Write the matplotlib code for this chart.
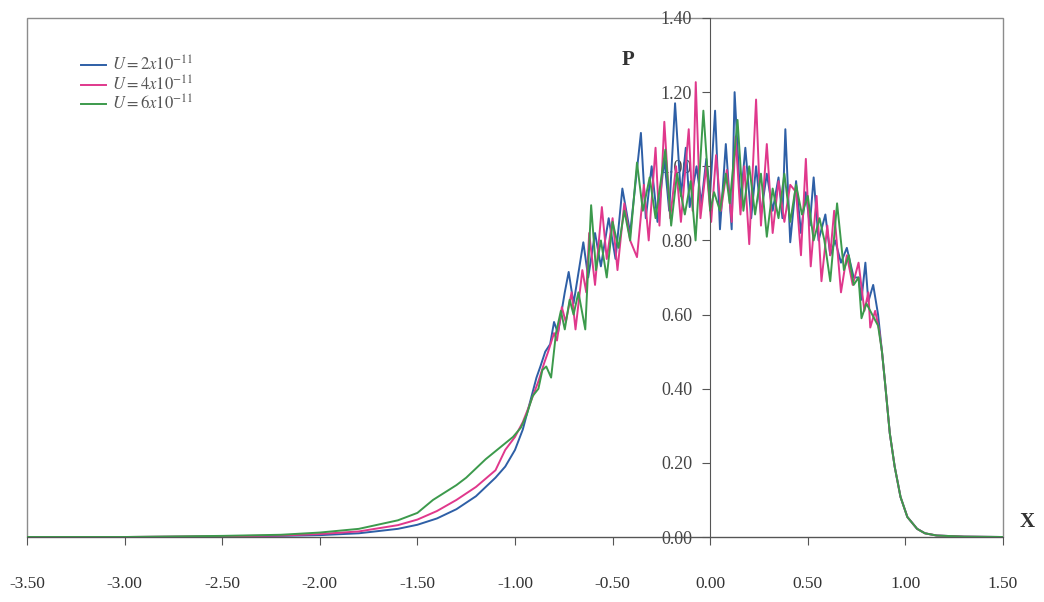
import numpy as np
import matplotlib
matplotlib.use('Agg')
import matplotlib.pyplot as plt
from matplotlib.patches import Rectangle

LABELS = [r'$U = 2x10^{-11}$', r'$U = 4x10^{-11}$', r'$U = 6x10^{-11}$']
COLORS = ['#2e5fa6', '#e0388c', '#3c9a4c']

X_TICKS = [-3.5, -3.0, -2.5, -2.0, -1.5, -1.0, -0.5, 0.0, 0.5, 1.0, 1.5]
X_TICK_LABELS = ['-3.50', '-3.00', '-2.50', '-2.00', '-1.50', '-1.00', '-0.50', '0.00', '0.50', '1.00', '1.50']
Y_TICKS = [0.0, 0.2, 0.4, 0.6, 0.8, 1.0, 1.2, 1.4]
Y_TICK_LABELS = ['0.00', '0.20', '0.40', '0.60', '0.80', '1.00', '1.20', '1.40']

# blue, U = 2x10^-11
X_BLUE = [-3.5, -3.0, -2.5, -2.2, -2.0, -1.8, -1.6, -1.5, -1.4, -1.3, -1.2, -1.1, -1.05, -1.0,
          -0.96, -0.93, -0.89, -0.87, -0.845, -0.82, -0.80, -0.78, -0.745, -0.725, -0.70,
          -0.65, -0.625, -0.59, -0.56, -0.52, -0.485, -0.45, -0.41, -0.355, -0.33, -0.30,
          -0.27, -0.235, -0.21, -0.18, -0.15, -0.125, -0.105, -0.07, -0.045, -0.02, 0.0,
          0.025, 0.05, 0.08, 0.11, 0.125, 0.155, 0.18, 0.21, 0.235, 0.26, 0.29, 0.32, 0.35,
          0.37, 0.385, 0.41, 0.44, 0.465, 0.49, 0.51, 0.53, 0.555, 0.59, 0.615, 0.64, 0.67,
          0.70, 0.735, 0.76, 0.775, 0.795, 0.81, 0.835, 0.86, 0.88, 0.895, 0.92, 0.945,
          0.975, 1.01, 1.06, 1.10, 1.16, 1.30, 1.50]
Y_BLUE = [0.0, 0.0, 0.001, 0.003, 0.005, 0.01, 0.022, 0.033, 0.05, 0.075, 0.11, 0.16, 0.19, 0.235,
          0.29, 0.35, 0.43, 0.46, 0.50, 0.52, 0.58, 0.55, 0.66, 0.715, 0.63,
          0.795, 0.70, 0.82, 0.73, 0.86, 0.75, 0.94, 0.82, 1.09, 0.86, 1.00,
          0.85, 1.02, 0.88, 1.17, 0.92, 1.05, 0.89, 1.00, 0.90, 1.02, 0.93,
          1.15, 0.83, 1.06, 0.83, 1.20, 0.90, 1.05, 0.86, 1.00, 0.87, 0.98, 0.88, 0.97,
          0.86, 1.10, 0.795, 0.96, 0.82, 0.93, 0.84, 0.97, 0.80, 0.87, 0.76, 0.80, 0.74,
          0.78, 0.70, 0.70, 0.64, 0.74, 0.635, 0.68, 0.60, 0.50, 0.42, 0.28, 0.19,
          0.108, 0.054, 0.022, 0.01, 0.004, 0.001, 0.0]

# pink, U = 4x10^-11
X_PINK = [-3.5, -3.0, -2.5, -2.2, -2.0, -1.8, -1.6, -1.5, -1.4, -1.3, -1.2, -1.1, -1.05, -1.0,
          -0.96, -0.93, -0.88, -0.85, -0.83, -0.80, -0.785, -0.76, -0.74, -0.71, -0.69,
          -0.655, -0.635, -0.62, -0.59, -0.555, -0.53, -0.50, -0.475, -0.44, -0.41, -0.375,
          -0.34, -0.315, -0.28, -0.26, -0.235, -0.205, -0.175, -0.15, -0.11, -0.09, -0.074,
          -0.05, -0.02, 0.005, 0.03, 0.055, 0.085, 0.11, 0.13, 0.155, 0.175, 0.20, 0.235,
          0.26, 0.29, 0.32, 0.35, 0.38, 0.41, 0.44, 0.465, 0.49, 0.515, 0.545, 0.57, 0.60,
          0.615, 0.635, 0.67, 0.70, 0.73, 0.76, 0.79, 0.81, 0.82, 0.845, 0.865, 0.88, 0.895,
          0.92, 0.945, 0.975, 1.01, 1.06, 1.10, 1.16, 1.30, 1.50]
Y_PINK = [0.0, 0.0, 0.002, 0.004, 0.008, 0.015, 0.032, 0.047, 0.07, 0.10, 0.135, 0.18, 0.235, 0.27,
          0.31, 0.35, 0.42, 0.47, 0.50, 0.55, 0.53, 0.62, 0.58, 0.66, 0.56,
          0.72, 0.66, 0.82, 0.68, 0.89, 0.75, 0.86, 0.72, 0.90, 0.80, 0.755,
          0.95, 0.80, 1.05, 0.84, 1.12, 0.86, 1.00, 0.85, 1.10, 0.88, 1.227,
          0.86, 1.00, 0.85, 1.03, 0.88, 0.99, 0.85, 1.08, 0.87, 1.00, 0.79, 1.18,
          0.84, 1.06, 0.82, 0.96, 0.85, 0.95, 0.93, 0.76, 1.02, 0.73, 0.92, 0.69, 0.84,
          0.76, 0.88, 0.66, 0.76, 0.68, 0.74, 0.61, 0.66, 0.565, 0.61, 0.56, 0.50, 0.42,
          0.28, 0.19, 0.108, 0.054, 0.022, 0.01, 0.004, 0.001, 0.0]

# green, U = 6x10^-11
X_GREEN = [-3.5, -3.0, -2.5, -2.2, -2.0, -1.8, -1.6, -1.5, -1.42, -1.3, -1.25, -1.15, -1.08,
           -1.01, -0.97, -0.94, -0.91, -0.88, -0.86, -0.84, -0.815, -0.79, -0.765, -0.745,
           -0.72, -0.70, -0.675, -0.64, -0.61, -0.585, -0.56, -0.53, -0.50, -0.47, -0.44,
           -0.41, -0.375, -0.345, -0.31, -0.28, -0.23, -0.20, -0.17, -0.13, -0.10, -0.075,
           -0.035, 0.0, 0.02, 0.05, 0.08, 0.10, 0.14, 0.17, 0.20, 0.23, 0.26, 0.29, 0.32,
           0.35, 0.38, 0.41, 0.44, 0.47, 0.50, 0.53, 0.56, 0.585, 0.615, 0.65, 0.685, 0.71,
           0.735, 0.76, 0.775, 0.80, 0.83, 0.86, 0.88, 0.895, 0.92, 0.945, 0.975, 1.01, 1.06,
           1.10, 1.16, 1.30, 1.50]
Y_GREEN = [0.0, 0.0, 0.003, 0.006, 0.012, 0.022, 0.045, 0.065, 0.10, 0.14, 0.16, 0.21, 0.24,
           0.27, 0.295, 0.33, 0.38, 0.40, 0.45, 0.46, 0.43, 0.55, 0.61, 0.56,
           0.64, 0.60, 0.66, 0.56, 0.895, 0.72, 0.80, 0.70, 0.85, 0.78, 0.88,
           0.80, 1.01, 0.88, 0.97, 0.86, 1.045, 0.84, 0.98, 0.87, 0.96, 0.80,
           1.15, 0.88, 0.93, 0.88, 0.98, 0.90, 1.125, 0.88, 1.00, 0.87, 0.98, 0.81, 0.94,
           0.86, 0.98, 0.85, 0.95, 0.87, 0.92, 0.80, 0.86, 0.80, 0.69, 0.90, 0.72, 0.76,
           0.68, 0.70, 0.59, 0.63, 0.60, 0.57, 0.50, 0.42, 0.28, 0.19, 0.108, 0.054, 0.022,
           0.01, 0.004, 0.001, 0.0]


def setup_axes(fig):
    ax = fig.add_axes([27 / 1044, 1 - 537 / 602, 976 / 1044, 519 / 602])
    ax.set_xlim(-3.5, 1.5)
    ax.set_ylim(0, 1.4)
    for side in ['top', 'right']:
        ax.spines[side].set_visible(False)
    ax.spines['left'].set_position(('data', 0))
    ax.spines['left'].set_color('#555555')
    ax.spines['bottom'].set_color('#555555')
    ax.add_patch(Rectangle((0, 0), 1, 1, transform=ax.transAxes, fill=False,
                           edgecolor='#8c8c8c', lw=1.0, zorder=0, clip_on=False))
    ax.set_xticks(X_TICKS)
    ax.set_xticklabels(X_TICK_LABELS)
    ax.set_yticks(Y_TICKS)
    ax.set_yticklabels(Y_TICK_LABELS)
    ax.tick_params(axis='x', direction='out', length=6, width=0.8, color='#555555',
                   pad=22, labelsize=12.5, labelcolor='#333333')
    ax.tick_params(axis='y', direction='out', length=6, width=0.8, color='#555555',
                   pad=7, labelsize=13, labelcolor='#444444')
    return ax


def main():
    plt.rcParams['font.family'] = ['Liberation Serif', 'DejaVu Serif']
    plt.rcParams['mathtext.fontset'] = 'stix'
    fig = plt.figure(figsize=(10.44, 6.02), dpi=100)
    ax = setup_axes(fig)

    series = [(X_BLUE, Y_BLUE), (X_PINK, Y_PINK), (X_GREEN, Y_GREEN)]
    for (xs, ys), lab, col in zip(series, LABELS, COLORS):
        ax.plot(xs, ys, color=col, lw=1.4, label=lab)

    leg = ax.legend(loc='upper left', bbox_to_anchor=(0.055, 0.928), frameon=False,
                    fontsize=12, handlelength=1.5, handletextpad=0.35,
                    labelspacing=0.04, borderpad=0, borderaxespad=0)
    for t in leg.get_texts():
        t.set_color('#555555')

    fig.text(628 / 1044, 1 - 60 / 602, 'P', fontsize=15, fontweight='bold',
             ha='center', va='center', color='#333333')
    fig.text(1027 / 1044, 1 - 522 / 602, 'X', fontsize=15, fontweight='bold',
             ha='center', va='center', color='#333333')

    fig.savefig('out.png', dpi=100)


if __name__ == '__main__':
    main()
